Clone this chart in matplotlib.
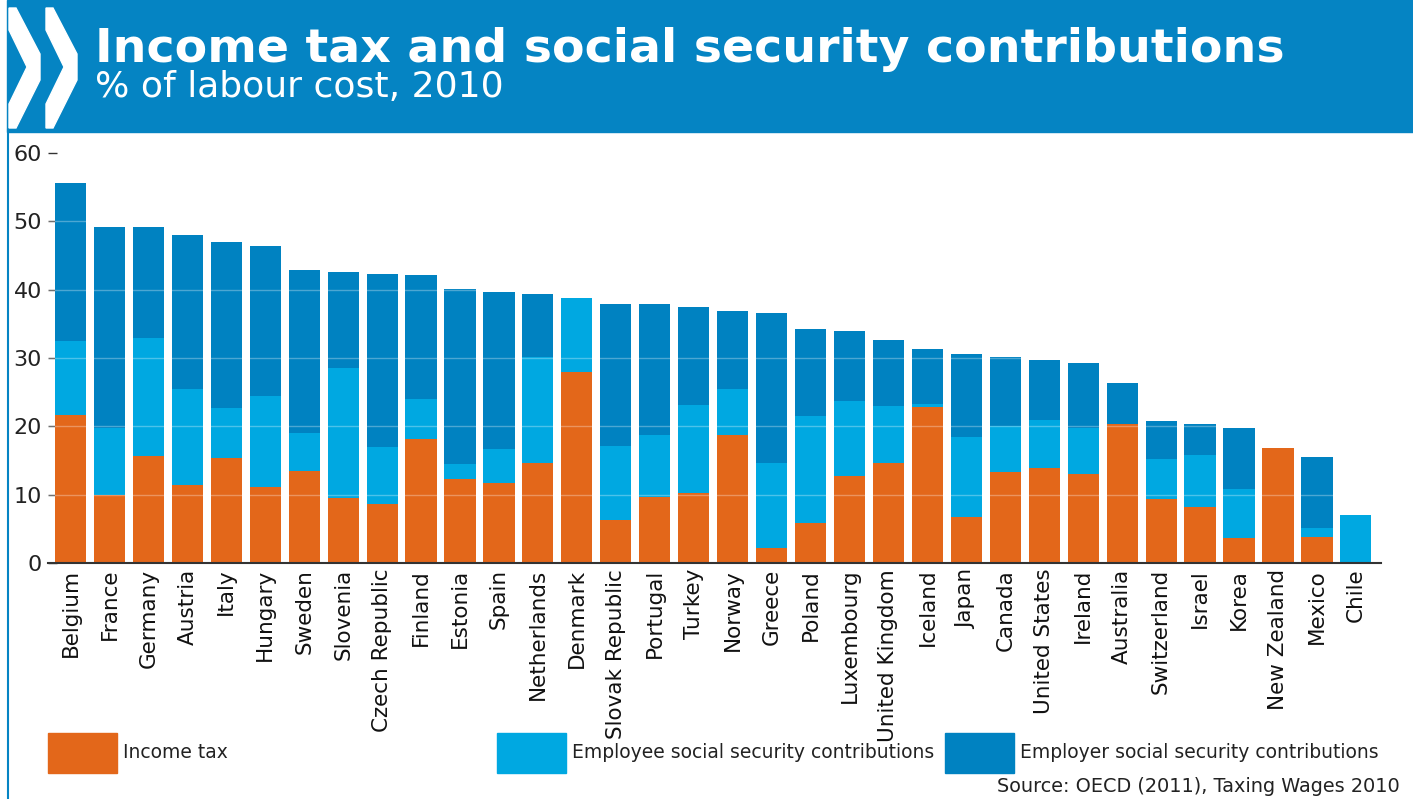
import matplotlib
matplotlib.use("Agg")
import matplotlib.pyplot as plt
from matplotlib.patches import Rectangle, Polygon
from matplotlib.lines import Line2D
import numpy as np

countries = ["Belgium", "France", "Germany", "Austria", "Italy", "Hungary", "Sweden",
             "Slovenia", "Czech Republic", "Finland", "Estonia", "Spain", "Netherlands",
             "Denmark", "Slovak Republic", "Portugal", "Turkey", "Norway", "Greece",
             "Poland", "Luxembourg", "United Kingdom", "Iceland", "Japan", "Canada",
             "United States", "Ireland", "Australia", "Switzerland", "Israel", "Korea",
             "New Zealand", "Mexico", "Chile"]

# values as % of labour cost
income_tax = [21.7, 10.0, 15.7, 11.4, 15.4, 11.1, 13.5,
              9.5, 8.7, 18.1, 12.3, 11.7, 14.6,
              28.0, 6.4, 9.7, 10.3, 18.7, 2.2,
              5.9, 12.7, 14.7, 22.8, 6.8, 13.3,
              13.9, 13.1, 20.4, 9.4, 8.3, 3.7,
              16.9, 3.9, 0.0]
employee_ssc = [10.8, 9.8, 17.2, 14.1, 7.3, 13.3, 5.5,
                19.1, 8.3, 5.9, 2.2, 5.0, 15.5,
                10.7, 10.7, 9.0, 12.9, 6.8, 12.5,
                15.6, 11.0, 8.3, 0.5, 11.7, 6.7,
                7.1, 6.7, 0.0, 5.8, 7.5, 7.2,
                0.0, 1.2, 7.1]
total = [55.5, 49.2, 49.1, 48.0, 46.9, 46.4, 42.8,
         42.5, 42.3, 42.1, 40.1, 39.7, 39.3,
         38.7, 37.9, 37.9, 37.4, 36.8, 36.6,
         34.3, 33.9, 32.7, 31.3, 30.6, 30.2,
         29.7, 29.3, 26.3, 20.8, 20.4, 19.8,
         16.9, 15.6, 7.1]

legend_labels = ["Income tax", "Employee social security contributions",
                 "Employer social security contributions"]

orange = "#E3671A"
light_blue = "#00A8E1"
dark_blue = "#0082C1"
header_blue = "#0584C3"

W, H = 1413, 799


def fx(px):
    return px / W


def fy(py):
    return 1 - py / H


fig = plt.figure(figsize=(W / 100, H / 100), dpi=100)

# header band with the two chevrons
fig.patches.append(Rectangle((fx(7), fy(132)), 1, 132 / H, transform=fig.transFigure,
                             color=header_blue, zorder=0))
fig.lines.append(Line2D([fx(7.5), fx(7.5)], [0, fy(130)], transform=fig.transFigure,
                        color=header_blue, lw=1.5))
for off in (0, 37):
    pts = [(9, 8), (16, 8), (40, 54), (40, 80), (16, 128), (9, 128), (9, 104), (27, 67), (9, 30)]
    fig.patches.append(Polygon([(fx(px + off), fy(py)) for px, py in pts], closed=True,
                               transform=fig.transFigure, color="white", zorder=1))

fig.text(fx(95), fy(62), "Income tax and social security contributions", color="white",
         fontsize=34.2, fontweight="bold", ha="left", va="baseline")
fig.text(fx(95), fy(97), "% of labour cost, 2010", color="white",
         fontsize=26, ha="left", va="baseline")

ax = fig.add_axes([fx(48), fy(563.3), (1381 - 48) / W, (563.3 - 152.7) / H])

x = np.arange(len(countries))
inc = np.array(income_tax)
emp = np.array(employee_ssc)
empr = np.array(total) - inc - emp

ax.bar(x, inc, width=0.8, color=orange, zorder=2)
ax.bar(x, emp, width=0.8, bottom=inc, color=light_blue, zorder=2)
ax.bar(x, empr, width=0.8, bottom=inc + emp, color=dark_blue, zorder=2)

for v in range(10, 60, 10):
    ax.axhline(v, color="white", alpha=0.3, lw=1, zorder=3)

ax.set_xlim(-0.578, 33.645)
ax.set_ylim(0, 60)
ax.set_yticks(range(0, 61, 10))
ax.set_xticks(x)
ax.set_xticklabels(countries, rotation=90, fontsize=15.5, color="#111111")
ax.tick_params(axis="x", length=0, pad=4)
ax.tick_params(axis="y", direction="in", length=6.5, width=1, color="#333333",
               labelsize=16, labelcolor="#222222", pad=4.3)
for s in ("top", "right", "left"):
    ax.spines[s].set_visible(False)
ax.spines["bottom"].set_color("#333333")
ax.spines["bottom"].set_linewidth(1.5)

# legend
for x0, col, lab in zip((48, 497, 945), (orange, light_blue, dark_blue), legend_labels):
    fig.patches.append(Rectangle((fx(x0), fy(773)), 69 / W, 40 / H, transform=fig.transFigure,
                                 color=col))
    fig.text(fx(x0 + 75), fy(753), lab, fontsize=13.5, color="#222222", ha="left", va="center")

fig.text(fx(1400), fy(786), "Source: OECD (2011), Taxing Wages 2010", fontsize=13.9,
         color="#222222", ha="right", va="center")

fig.savefig("out.png", dpi=100)
